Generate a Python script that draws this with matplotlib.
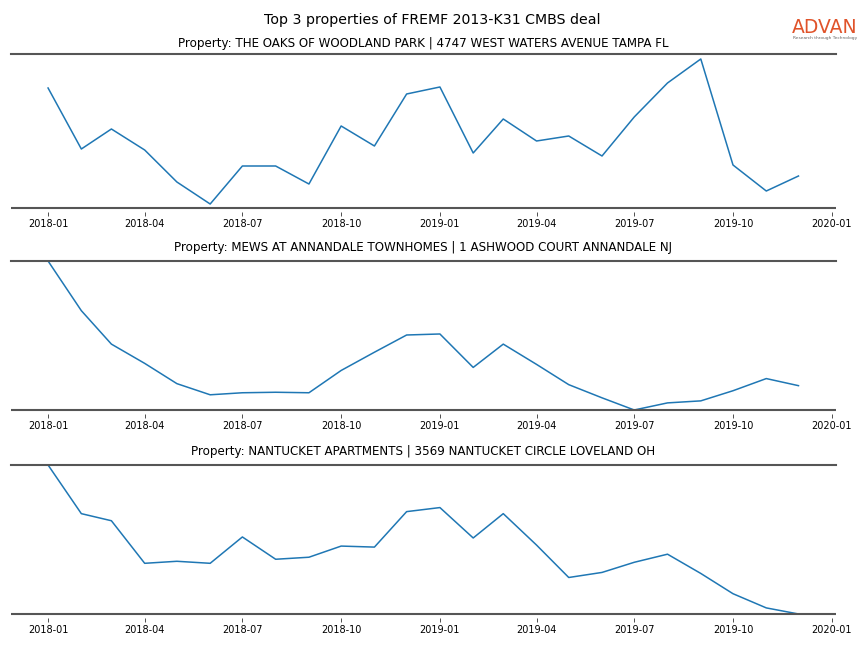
import numpy as np
import pandas as pd
import matplotlib
matplotlib.use('Agg')
import matplotlib.pyplot as plt

# monthly values, 2018-01 .. 2019-12
months = pd.date_range('2018-01-01', '2019-12-01', freq='MS')

titles = [
    'Property: THE OAKS OF WOODLAND PARK | 4747 WEST WATERS AVENUE TAMPA FL',
    'Property: MEWS AT ANNANDALE TOWNHOMES | 1 ASHWOOD COURT ANNANDALE NJ',
    'Property: NANTUCKET APARTMENTS | 3569 NANTUCKET CIRCLE LOVELAND OH',
]

oaks = [120, 59, 79, 58, 26, 4, 42, 42, 24, 82, 62, 114,
        121, 55, 89, 67, 72, 52, 91, 125, 149, 43, 17, 32]
mews = [148, 99, 66, 47, 27, 16, 18, 18.5, 18, 40, 58, 75,
        76, 43, 66, 46, 26, 13, 1, 8, 10, 20, 32, 25]
nantucket = [148, 100, 93, 51, 53, 51, 77, 55, 57, 68, 67, 102,
             106, 76, 100, 69, 37, 42, 52, 60, 41, 21, 7, 1]

series = [oaks, mews, nantucket]
ylims = [(0, 154), (1, 148), (1, 148)]
pads = [5, 7.5, 7.5]

fig = plt.figure(figsize=(8.64, 6.48), dpi=100)
fig.suptitle('Top 3 properties of FREMF 2013-K31 CMBS deal', fontsize=10.2, y=0.98)

# axes boxes [left, bottom, width, height]
boxes = [
    [0.0122, 0.679, 0.9554, 0.2377],
    [0.0122, 0.3673, 0.9554, 0.2299],
    [0.0122, 0.0525, 0.9554, 0.2299],
]

for box, vals, title, yl, pd_ in zip(boxes, series, titles, ylims, pads):
    ax = fig.add_axes(box)
    ax.plot(months, vals, color='#1f77b4', linewidth=1.1)
    ax.set_ylim(yl)
    ax.set_title(title, fontsize=8.6, pad=pd_)
    ax.set_yticks([])
    ax.spines['left'].set_visible(False)
    ax.spines['right'].set_visible(False)
    ax.spines['top'].set_color('#555555')
    ax.spines['top'].set_linewidth(1.5)
    # visible bottom rule, ticks pushed a bit below it
    ax.spines['bottom'].set_visible(False)
    ax.spines['bottom'].set_position(('outward', 3))
    ax.plot([0, 1], [0, 0], transform=ax.transAxes, color='#555555',
            linewidth=1.5, clip_on=False, solid_capstyle='butt')
    ax.set_xticks(pd.date_range('2018-01-01', '2020-01-01', freq='3MS'))
    ax.xaxis.set_major_formatter(matplotlib.dates.DateFormatter('%Y-%m'))
    ax.tick_params(axis='x', labelsize=7, length=3, width=0.6, pad=2, color='#333333')

# logo
fig.text(0.955, 0.958, 'ADVAN', color='#e0532a', fontsize=13.5, fontweight='medium',
         ha='center', va='center')
fig.text(0.955, 0.941, 'Research through Technology', color='#666666', fontsize=3.2,
         ha='center', va='center')

fig.savefig('out.png', dpi=100)
